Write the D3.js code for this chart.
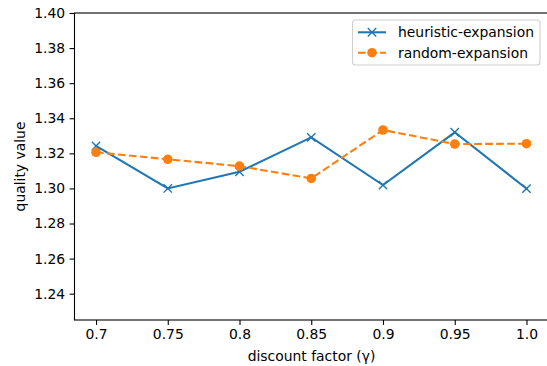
<!DOCTYPE html>
<html><head><meta charset="utf-8">
<script src="https://cdn.jsdelivr.net/npm/d3@7"></script>
<style>body{margin:0;background:#fff}svg{display:block;font-family:"DejaVu Sans",sans-serif}</style>
</head><body><svg id="c" width="547" height="366"></svg>
<script>
const categories = [0.7, 0.75, 0.8, 0.85, 0.9, 0.95, 1.0];
const tickLabels = ["0.7", "0.75", "0.8", "0.85", "0.9", "0.95", "1.0"];
const heuristic = [1.3242, 1.3000, 1.3095, 1.3291, 1.3019, 1.3320, 1.2999];
const random = [1.3206, 1.3166, 1.3127, 1.3057, 1.3333, 1.3253, 1.3255];
const yTicks = [1.24, 1.26, 1.28, 1.30, 1.32, 1.34, 1.36, 1.38, 1.40];
const seriesNames = ["heuristic-expansion", "random-expansion"];

const svg = d3.select("#c");
const L = 74.5, R = 548, T = 13, B = 320;
const x = d3.scaleLinear().domain([0.685, 1.015]).range([L, R]);
const y = d3.scaleLinear().domain([1.225, 1.40]).range([B, T]);
const FS = 13.9;

// axes
const xa = svg.append("g").attr("transform", `translate(0,${B})`)
  .call(d3.axisBottom(x).tickValues(categories).tickFormat((d,i)=>tickLabels[i]).tickSize(4.9).tickPadding(4.5));
const ya = svg.append("g").attr("transform", `translate(${L},0)`)
  .call(d3.axisLeft(y).tickValues(yTicks).tickFormat(d3.format(".2f")).tickSize(4.9).tickPadding(4.5));
[xa, ya].forEach(a => {
  a.select(".domain").remove();
  a.selectAll("line").attr("stroke", "#000").attr("stroke-width", 1.1);
  a.selectAll("text").attr("font-size", FS).attr("fill", "#000").attr("font-family", "DejaVu Sans");
});
// spines
svg.append("rect").attr("x", L).attr("y", T).attr("width", R - L).attr("height", B - T)
  .attr("fill", "none").attr("stroke", "#000").attr("stroke-width", 1.1);

// lines
const line = d3.line().x((d,i)=>x(categories[i])).y(d=>y(d));
svg.append("path").datum(heuristic).attr("d", line).attr("fill","none")
  .attr("stroke","#1f77b4").attr("stroke-width",2.08).attr("stroke-linecap","square");
svg.append("path").datum(random).attr("d", line).attr("fill","none")
  .attr("stroke","#ff7f0e").attr("stroke-width",2.08).attr("stroke-dasharray","7.7,3.3");

const xm = (g, cx, cy) => {
  const s = 4.2;
  g.append("path").attr("d", `M${cx-s},${cy-s}L${cx+s},${cy+s}M${cx-s},${cy+s}L${cx+s},${cy-s}`)
   .attr("stroke","#1f77b4").attr("stroke-width",1.4).attr("fill","none");
};
const mg = svg.append("g");
heuristic.forEach((v,i)=>xm(mg, x(categories[i]), y(v)));
svg.append("g").selectAll("circle").data(random).join("circle")
  .attr("cx",(d,i)=>x(categories[i])).attr("cy",d=>y(d)).attr("r",4.8).attr("fill","#ff7f0e");

// axis labels
svg.append("text").attr("x", 311.5).attr("y", 361).attr("text-anchor","middle")
  .attr("font-size", FS).text("discount factor (γ)");
svg.append("text").attr("transform", `translate(24.5,${(T+B)/2}) rotate(-90)`).attr("text-anchor","middle")
  .attr("font-size", FS).text("quality value");

// legend
const lg = svg.append("g");
lg.append("rect").attr("x",352.5).attr("y",20).attr("width",187.5).attr("height",45).attr("rx",3)
  .attr("fill","#fff").attr("fill-opacity",0.8).attr("stroke","#d0d0d0").attr("stroke-width",1.1);
const rows = [32.3, 52.7];
lg.append("line").attr("x1",358).attr("x2",386).attr("y1",rows[0]).attr("y2",rows[0])
  .attr("stroke","#1f77b4").attr("stroke-width",2.08);
xm(lg, 372, rows[0]);
lg.append("line").attr("x1",358).attr("x2",386).attr("y1",rows[1]).attr("y2",rows[1])
  .attr("stroke","#ff7f0e").attr("stroke-width",2.08).attr("stroke-dasharray","7.7,3.3");
lg.append("circle").attr("cx",372).attr("cy",rows[1]).attr("r",4.8).attr("fill","#ff7f0e");
seriesNames.forEach((n,i)=>lg.append("text").attr("x",398).attr("y",rows[i]).attr("dy","0.36em")
  .attr("font-size",FS).text(n));
</script></body></html>
